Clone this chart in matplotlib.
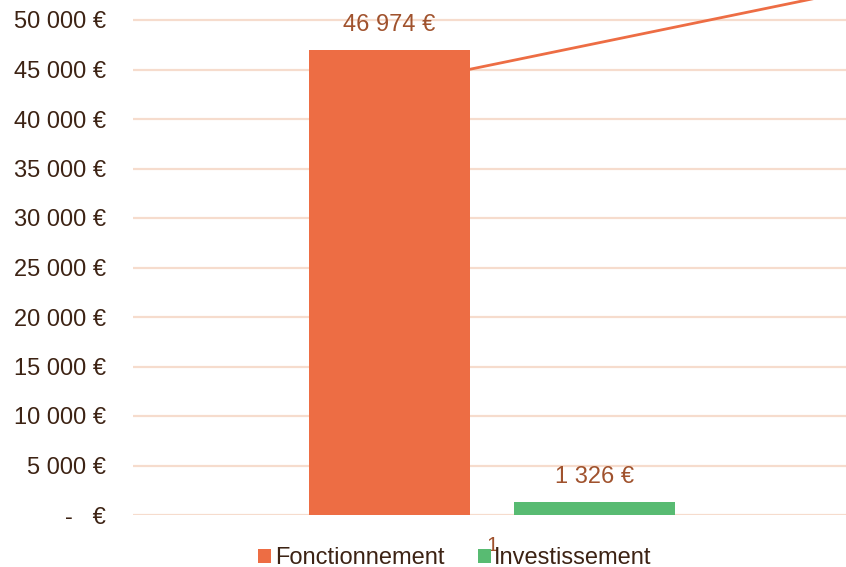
import matplotlib.pyplot as plt
from matplotlib.patches import Patch

plt.rcParams['font.family'] = ['Liberation Sans', 'DejaVu Sans']

series = ["Fonctionnement", "Investissement"]
values = [46974, 1326]
value_labels = ["46 974 €", "1 326 €"]
category = "1"
colors = ["#ED6D44", "#58BB72"]
yticks = [0, 5000, 10000, 15000, 20000, 25000, 30000, 35000, 40000, 45000, 50000]
ytick_labels = ["-   €", "5 000 €", "10 000 €", "15 000 €", "20 000 €", "25 000 €",
                "30 000 €", "35 000 €", "40 000 €", "45 000 €", "50 000 €"]
# stray line starting at the orange bar's right edge
line_x = [-0.029, 0.5]
line_y = [45050, 52934]

text_dark = "#3D2314"
label_col = "#A0522D"
grid_col = "#F6DCCD"

fig = plt.figure(figsize=(8.46, 5.67), dpi=100)
# plot area: x from 133 px to 851 px, y from 515 px (0) up to the top edge
ax = fig.add_axes([133 / 846, 52 / 567, 718 / 846, 515 / 567])

width = 0.225
offsets = [-0.1425, 0.1425]
for v, c, off, lab in zip(values, colors, offsets, value_labels):
    ax.bar(off, v, width=width, color=c, zorder=3)
    ax.text(off, v + 2550, lab, ha="center", va="center", fontsize=17,
            color=label_col, zorder=4)

ax.plot(line_x, line_y, color=colors[0], lw=2, zorder=4)

ax.set_xlim(-0.5, 0.5)
ax.set_ylim(0, 50000 * 515 / 495)
ax.set_yticks(yticks)
ax.set_yticklabels(ytick_labels, fontsize=17, color=text_dark)
ax.tick_params(axis="y", length=0, pad=19.5)
ax.set_xticks([0])
ax.set_xticklabels([category], fontsize=15, color=label_col)
ax.tick_params(axis="x", length=0, pad=15)
ax.yaxis.grid(True, color=grid_col, lw=1.6, zorder=0)
for s in ax.spines.values():
    s.set_visible(False)

handles = [Patch(facecolor=c, edgecolor="none") for c in colors]
leg = fig.legend(handles, series, loc="center", bbox_to_anchor=(455 / 846, 1 - 558 / 567),
                 ncol=2, frameon=False, fontsize=17, handlelength=0.55, handleheight=0.55,
                 handletextpad=0.15, columnspacing=1.4, borderpad=0)
for t in leg.get_texts():
    t.set_color(text_dark)

fig.savefig("out.png", dpi=100)
